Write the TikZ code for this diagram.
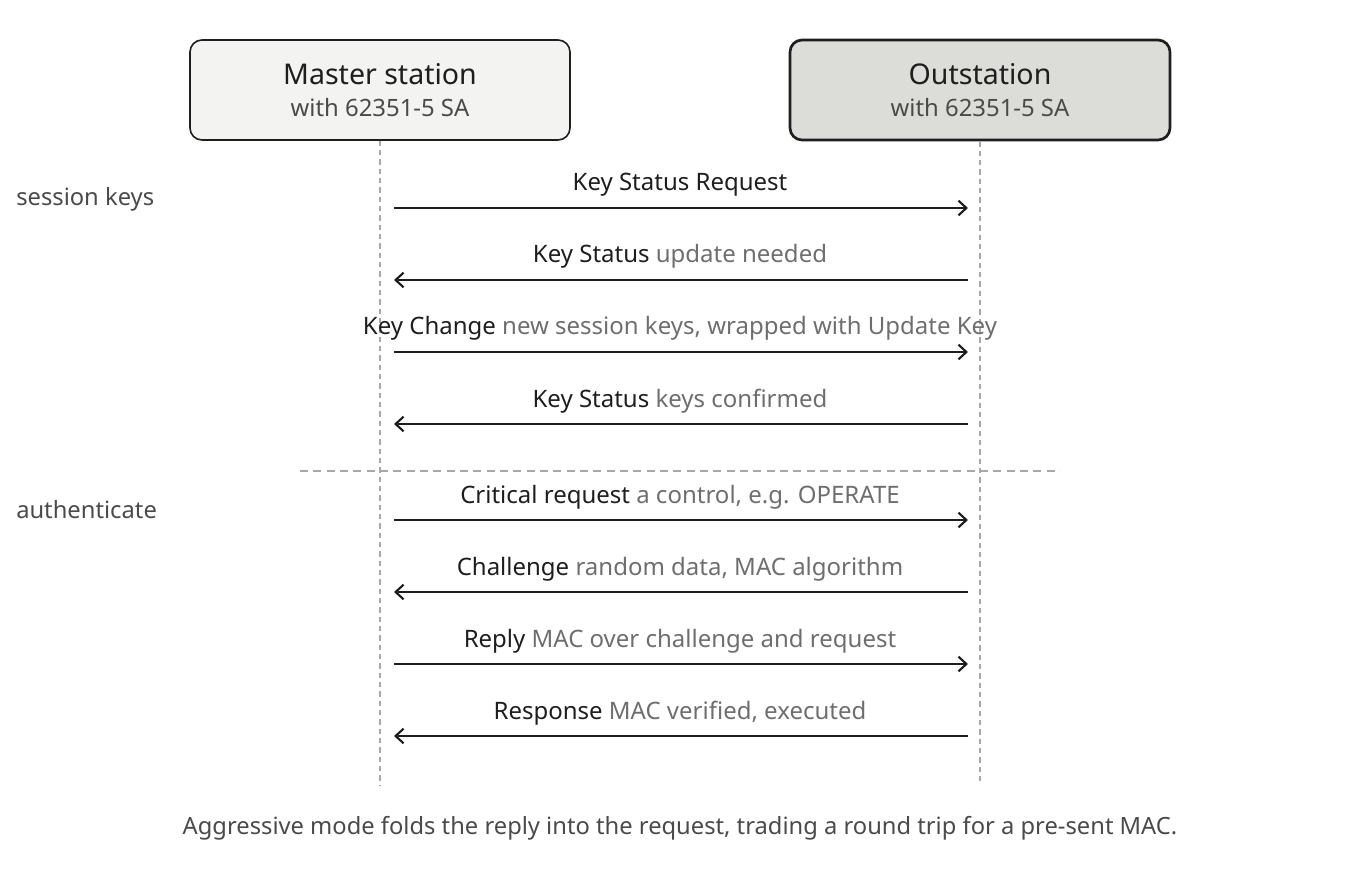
\documentclass[tikz,border=0pt]{standalone}
\usepackage{fontspec}
\setmainfont{Noto Sans}
\usetikzlibrary{arrows.meta}
\definecolor{ink}{HTML}{1E1E1E}
\definecolor{muted}{HTML}{6E6E6E}
\definecolor{sub}{HTML}{4A4A4A}
\definecolor{lifec}{HTML}{A8A8A8}
\begin{document}
\begin{tikzpicture}[x=0.75pt,y=-0.75pt,
 actor/.style={draw=ink,rounded corners=9pt,minimum width=285pt,minimum height=75pt,inner sep=0pt},
 title/.style={font=\fontsize{21.4}{25}\selectfont,text=ink,anchor=base,inner sep=0pt},
 subt/.style={font=\fontsize{17.9}{21}\selectfont,text=sub,anchor=base,inner sep=0pt},
 life/.style={draw=lifec,dash pattern=on 4pt off 3pt,line width=0.8pt},
 msg/.style={draw=ink,line width=1.6pt,-{Straight Barb[length=6pt,width=11pt,line width=1.6pt]}},
 lab/.style={font=\fontsize{18}{21}\selectfont,text=ink,anchor=base,inner sep=0pt},
 side/.style={font=\fontsize{17.8}{21}\selectfont,text=sub,anchor=base west,inner sep=0pt}]
\useasboundingbox (0,0) rectangle (1360,880);
\node[actor,fill={rgb,255:red,243;green,243;blue,241},line width=1.2pt] (m) at (380,90) {};
\node[actor,fill={rgb,255:red,220;green,220;blue,216},line width=2pt] (o) at (980,90) {};
\node[title] (mt) at (380,85) {Master station};
\node[subt] (ms) at (380,117) {with 62351-5 SA};
\node[title] (ot) at (980,85) {Outstation};
\node[subt] (os) at (980,117) {with 62351-5 SA};
\coordinate (me) at (380,785); \coordinate (oe) at (980,785);
\draw[life] (m.south) -- (me);
\draw[life] (o.south) -- (oe);
\draw[lifec,dash pattern=on 6pt off 4pt,line width=0.8pt] (300,471) coordinate (s1) -- (1060,471) coordinate (s2);
\node[side] (sk) at (16,206) {session keys};
\node[side] (au) at (16,518) {authenticate};
\foreach \y/\dir/\txt [count=\i] in {
 208/r/{Key Status Request},
 280/l/{Key Status \textcolor{muted}{update needed}},
 352/r/{Key Change \textcolor{muted}{new session keys, wrapped with Update Key}},
 424/l/{Key Status \textcolor{muted}{keys confirmed}},
 520/r/{Critical request \textcolor{muted}{a control, e.g. OPERATE}},
 592/l/{Challenge \textcolor{muted}{random data, MAC algorithm}},
 664/r/{Reply \textcolor{muted}{MAC over challenge and request}},
 736/l/{Response \textcolor{muted}{MAC verified, executed}}}{
 \coordinate (a\i) at (394,\y); \coordinate (b\i) at (968,\y);
 \if r\dir \draw[msg] (a\i) -- (b\i); \else \draw[msg] (b\i) -- (a\i); \fi
 \node[lab] (t\i) at (680,\y-17) {\txt};
}
\node[font=\fontsize{17.8}{21}\selectfont,text=sub,anchor=base,inner sep=0pt] (cap) at (680,834) {Aggressive mode folds the reply into the request, trading a round trip for a pre-sent MAC.};
\end{tikzpicture}
\end{document}
